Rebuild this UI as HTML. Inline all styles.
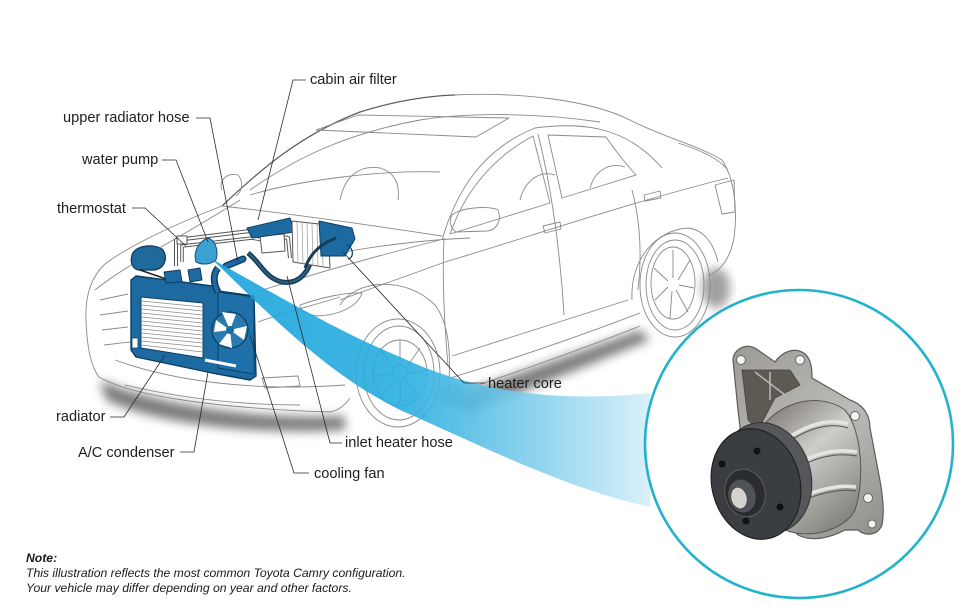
<!DOCTYPE html>
<html><head><meta charset="utf-8"><style>
html,body{margin:0;padding:0;background:#fff;}
svg{display:block;}
.lbl{font-family:"Liberation Sans",Arial,sans-serif;font-size:14.6px;fill:#1e1e1e;}
.note{font-family:"Liberation Sans",Arial,sans-serif;font-size:12.2px;fill:#1a1a1a;font-style:italic;}
</style></head><body>
<svg width="976" height="616" viewBox="0 0 976 616" xmlns="http://www.w3.org/2000/svg">
<defs>
<filter id="blur6" x="-20%" y="-50%" width="140%" height="200%"><feGaussianBlur stdDeviation="5"/></filter>
<filter id="blur3" x="-20%" y="-50%" width="140%" height="200%"><feGaussianBlur stdDeviation="3"/></filter>
<linearGradient id="beam" x1="210" y1="0" x2="650" y2="0" gradientUnits="userSpaceOnUse">
<stop offset="0" stop-color="#17a3da"/><stop offset="0.45" stop-color="#2aaee0"/><stop offset="0.75" stop-color="#86d0ec"/><stop offset="1" stop-color="#d6eff8"/>
</linearGradient>
<linearGradient id="body" x1="760" y1="400" x2="860" y2="520" gradientUnits="userSpaceOnUse">
<stop offset="0" stop-color="#6f6c69"/><stop offset="0.45" stop-color="#cfcdca"/><stop offset="1" stop-color="#7d7b78"/>
</linearGradient>
<linearGradient id="flange" x1="730" y1="350" x2="885" y2="540" gradientUnits="userSpaceOnUse">
<stop offset="0" stop-color="#9c9a97"/><stop offset="0.5" stop-color="#bdbbb8"/><stop offset="1" stop-color="#8e8c89"/>
</linearGradient>
</defs>

<!-- shadows -->
<path d="M100,380 C150,402 250,420 345,416 L345,430 C250,436 150,422 106,400 Z" fill="#6e6e6e" filter="url(#blur6)" opacity="0.9"/>
<path d="M448,398 L640,330 L650,340 L468,414 Z" fill="#707070" filter="url(#blur6)" opacity="0.9"/>
<ellipse cx="716" cy="288" rx="14" ry="20" fill="#888" filter="url(#blur6)" opacity="0.8"/>
<ellipse cx="452" cy="395" rx="14" ry="12" fill="#999" filter="url(#blur3)" opacity="0.6"/>

<!-- car body lines -->
<g fill="none" stroke="#8a8a8a" stroke-width="0.9" stroke-linejoin="round">
<path d="M222,206 C260,170 300,135 360,112 C395,101 425,96 455,95" stroke="#5e5e5e" stroke-width="1.3"/>
<path d="M455,95 C520,92 590,100 630,120 C660,136 700,146 722,160 C734,178 738,208 734,238 C730,258 722,270 708,276"/>
<path d="M222,206 C180,222 130,245 105,264 C90,278 85,298 86,320 C87,345 90,365 99,377 C130,395 210,408 330,412 C340,410 346,404 350,398"/>
<path d="M95,290 C130,262 180,238 240,200"/>
<path d="M222,206 C300,215 370,225 442,236"/>
<path d="M256,292 C320,272 380,255 440,240"/>
<path d="M340,300 C380,285 410,275 445,262 C520,240 620,205 728,178"/>
<path d="M300,305 C320,298 345,292 362,293 C358,306 340,315 318,316 C308,315 300,311 300,305 Z"/>
<path d="M115,360 C170,380 250,392 345,385"/>
<path d="M125,385 C180,398 240,405 300,405"/>
<path d="M262,378 L298,376 L300,386 L265,388 Z"/>
<path d="M258,322 C285,312 315,305 340,297"/>
<path d="M100,300 L128,294 M100,315 L128,311 M102,330 L128,327 M104,345 L130,342"/>
<path d="M340,305 C355,280 405,275 435,305 C448,322 452,350 448,395"/>
<ellipse cx="398" cy="373" rx="42" ry="54"/>
<ellipse cx="399" cy="373" rx="35" ry="47"/>
<ellipse cx="400" cy="373" rx="27" ry="33"/>
<ellipse cx="400" cy="373" rx="7" ry="8"/>
<path d="M400,365 L400,340 M406,368 L420,348 M407,374 L427,370 M405,380 L420,398 M400,381 L400,406 M394,380 L380,398 M393,374 L373,376 M394,368 L380,348"/>
<path d="M448,395 C500,378 580,350 640,326"/>
<path d="M450,378 C510,360 580,336 640,313"/>
<path d="M452,356 L628,300"/>
<path d="M444,238 C442,280 444,320 448,365"/>
<path d="M538,134 C552,190 560,250 564,315"/>
<path d="M632,190 C640,220 642,255 638,290"/>
<path d="M450,234 C462,200 485,162 533,136 L550,203 Z"/>
<path d="M548,135 L606,137 C615,150 625,163 636,175 L562,198 Z"/>
<path d="M442,240 C455,195 480,150 535,128 C580,122 625,125 662,168"/>
<path d="M452,215 C459,208 489,205 498,210 C502,220 497,230 487,231 L456,232 C450,228 449,220 452,215 Z"/>
<path d="M543,226 L560,222 L561,229 L545,233 Z"/>
<path d="M644,195 L660,191 L661,198 L645,201 Z"/>
<path d="M316,130 L358,115 L509,118 L476,137 Z"/>
<path d="M250,190 C300,155 350,133 420,120 C470,112 540,113 600,122"/>
<path d="M632,300 C630,260 655,230 688,228 C705,230 714,245 718,262"/>
<ellipse cx="675" cy="285" rx="35" ry="52"/>
<ellipse cx="675" cy="285" rx="29" ry="45"/>
<ellipse cx="673" cy="283" rx="22" ry="36"/>
<path d="M673,278 L673,250 M678,280 L690,260 M679,285 L694,288 M676,290 L688,312 M672,291 L670,318 M668,287 L655,300 M668,281 L654,268"/>
<path d="M678,143 C700,150 718,158 728,170"/>
<path d="M715,185 L734,180 L735,212 L722,214 Z"/>
<path d="M340,200 C345,175 360,165 380,168 C395,172 400,185 398,200"/>
<path d="M250,195 C300,180 380,170 440,172"/>
<path d="M222,190 C218,180 228,172 238,175 C244,182 242,192 236,196"/>
<path d="M520,200 C525,180 540,170 555,175"/>
<path d="M590,188 C595,170 610,162 625,167"/>
<path d="M300,260 C360,248 420,240 470,238"/>
</g>

<!-- engine bay parts -->
<g stroke-linejoin="round">
<path d="M176,266 L176,240 L250,231 L288,238 L290,258" fill="none" stroke="#555" stroke-width="4"/>
<path d="M176,266 L176,240 L250,231 L288,238 L290,258" fill="none" stroke="#fff" stroke-width="2"/>
<path d="M182,262 L182,246 L252,238 L284,244" fill="none" stroke="#555" stroke-width="3.5"/>
<path d="M182,262 L182,246 L252,238 L284,244" fill="none" stroke="#fff" stroke-width="1.6"/>
<rect x="177" y="236" width="10" height="8" fill="#fff" stroke="#555" stroke-width="1"/>
<path d="M132,255 C135,245 155,243 163,250 C168,258 165,268 155,270 L138,270 C132,268 130,262 132,255 Z" fill="#1e6a9a" stroke="#0c3a5c" stroke-width="1.2"/>
<path d="M140,270 L172,281" stroke="#222" stroke-width="1.5"/>
<path d="M131,280 L136,276 L212,286 L218,291 L254,296 L256,376 L250,380 L212,373 L136,357 L131,350 Z" fill="#1c6aa0" stroke="#0d3f66" stroke-width="1.4"/>
<path d="M218,292 L254,297 L254,374 L218,368 Z" fill="#1f70a8" stroke="#0d3f66" stroke-width="1"/>
<path d="M141,297 L203,303 L203,358 L141,348 Z" fill="#fff" stroke="#0d3f66" stroke-width="1"/>
<g stroke="#8a8a8a" stroke-width="0.7">
<path d="M141,301 L203,307 M141,305 L203,311 M141,309 L203,315 M141,313 L203,319 M141,317 L203,323 M141,321 L203,327 M141,325 L203,331 M141,329 L203,335 M141,333 L203,339 M141,337 L203,343 M141,341 L203,347 M141,345 L203,352"/>
</g>
<path d="M205,360 L236,366" stroke="#fff" stroke-width="3"/>
<path d="M132,338 L138,338 L138,348 L132,348 Z" fill="#fff" stroke="#0d3f66" stroke-width="0.8"/>
<circle cx="230" cy="330" r="18" fill="#2a7ab2" stroke="#0d3f66" stroke-width="1.2"/>
<path d="M230,330 L222,312 L236,314 Z M230,330 L247,326 L244,340 Z M230,330 L232,348 L219,344 Z M230,330 L214,332 L216,320 Z" fill="#fff"/>
<circle cx="230" cy="330" r="4" fill="#1c6aa0"/>
<path d="M164,272 L180,270 L182,282 L166,283 Z" fill="#1c6aa0" stroke="#0d3f66"/>
<path d="M188,270 L200,268 L202,280 L190,282 Z" fill="#1c6aa0" stroke="#0d3f66"/>
<path d="M218,268 C212,275 214,285 218,292" fill="none" stroke="#0d3f66" stroke-width="7"/>
<path d="M218,268 C212,275 214,285 218,292" fill="none" stroke="#1f6aa2" stroke-width="4"/>
<path d="M226,266 L243,259" stroke="#0d3f66" stroke-width="7" stroke-linecap="round"/>
<path d="M226,266 L243,259" stroke="#1f6aa2" stroke-width="4" stroke-linecap="round"/>
<path d="M196,262 C193,252 198,242 208,238 C215,240 219,250 216,260 C210,265 202,265 196,262 Z" fill="#3ba0d2" stroke="#14527f" stroke-width="1"/>
<path d="M248,253 C260,262 265,278 282,282 C300,285 310,270 312,255 L320,240" fill="none" stroke="#163c55" stroke-width="5"/>
<path d="M248,253 C260,262 265,278 282,282 C300,285 310,270 312,255 L320,240" fill="none" stroke="#2d5f7e" stroke-width="2"/>
<path d="M260,236 L284,234 L285,251 L262,253 Z" fill="#fff" stroke="#555" stroke-width="1"/>
<path d="M247,228 L290,218 L294,232 L252,238 Z" fill="#1c6aa0" stroke="#0d3f66" stroke-width="1"/>
<path d="M292,221 L328,225 L330,268 L293,262 Z" fill="#fff" stroke="#555" stroke-width="1"/>
<path d="M297,222 L298,263 M302,223 L303,264 M307,223 L308,265 M312,224 L313,265 M317,224 L318,266 M322,225 L323,267" stroke="#999" stroke-width="0.7"/>
<path d="M319,221 L352,228 L355,239 L345,256 L321,256 Z" fill="#1c6aa0" stroke="#0d3f66" stroke-width="1"/>
<path d="M347,245 C354,248 354,258 348,259" fill="none" stroke="#0d3f66" stroke-width="1.3"/>
<path d="M305,268 C310,255 318,245 336,238" fill="none" stroke="#163c55" stroke-width="3"/>
</g>

<!-- beam -->
<path d="M210,258 C260,285 330,328 400,357 C460,385 540,405 650,393 L650,507 C560,487 470,440 400,410 C330,375 280,325 218,265 Z" fill="url(#beam)" opacity="0.9"/>

<!-- leaders -->
<g fill="none" stroke="#2a2a2a" stroke-width="0.8">
<path d="M306,80 H293 L258,220"/>
<path d="M196,118 H210 L238,262"/>
<path d="M162,160 H176 L208,242"/>
<path d="M132,208 H145 L186,246"/>
<path d="M110,417 H124 L165,355"/>
<path d="M180,452 H194 L208,372"/>
<path d="M309,473 H294 L250,335"/>
<path d="M342,443 H330 L287,276"/>
<path d="M485,383 H464 L343,252"/>
</g>

<!-- labels -->
<text class="lbl" x="310" y="84">cabin air filter</text>
<text class="lbl" x="63" y="122">upper radiator hose</text>
<text class="lbl" x="82" y="164">water pump</text>
<text class="lbl" x="57" y="213">thermostat</text>
<text class="lbl" x="56" y="421">radiator</text>
<text class="lbl" x="78" y="457">A/C condenser</text>
<text class="lbl" x="314" y="478">cooling fan</text>
<text class="lbl" x="345" y="447">inlet heater hose</text>
<text class="lbl" x="488" y="388">heater core</text>

<!-- circle -->
<circle cx="799" cy="444" r="154" fill="#fff" stroke="#22b3cc" stroke-width="2.6"/>

<!-- pump -->
<g stroke-linejoin="round">
<path d="M733,360 C733,350 745,343 755,348 L775,362 C782,352 795,346 805,354 C812,360 812,372 812,378 L850,400 C862,404 870,414 870,428 L878,470 C882,490 885,510 882,525 C878,535 866,537 858,530 L845,530 C830,538 812,542 798,535 L785,520 L760,535 L745,470 L738,410 Z" fill="url(#flange)" stroke="#5e5c5a" stroke-width="1.2"/>
<path d="M742,370 L790,370 L800,385 L775,398 L758,430 L748,420 Z" fill="#5f5954" stroke="#444" stroke-width="0.8"/>
<path d="M755,372 L785,395 M770,372 L770,400" stroke="#bdb9b4" stroke-width="1.5"/>
<path d="M760,430 C780,400 820,392 845,410 C862,430 865,480 855,510 C845,530 810,540 785,530 L770,500 Z" fill="url(#body)" stroke="#555" stroke-width="1"/>
<g fill="none">
<path d="M785,440 C808,424 830,418 848,424" stroke="#e6e4e1" stroke-width="3.5"/>
<path d="M785,444 C808,428 830,422 848,428" stroke="#555" stroke-width="1"/>
<path d="M790,468 C815,453 835,448 857,452" stroke="#e6e4e1" stroke-width="3.5"/>
<path d="M790,472 C815,457 835,452 857,456" stroke="#555" stroke-width="1"/>
<path d="M795,500 C815,490 840,484 856,487" stroke="#e6e4e1" stroke-width="3.5"/>
<path d="M795,504 C815,494 840,488 856,491" stroke="#555" stroke-width="1"/>
</g>
<g fill="#f2f2f2" stroke="#666" stroke-width="1">
<circle cx="741" cy="360" r="4.5"/><circle cx="800" cy="360" r="4.5"/><circle cx="855" cy="416" r="4.5"/><circle cx="868" cy="498" r="4.5"/><circle cx="872" cy="524" r="4"/>
</g>
<ellipse cx="766" cy="478" rx="45" ry="56" transform="rotate(-15 766 478)" fill="#55575b" stroke="#333" stroke-width="1"/>
<ellipse cx="756" cy="484" rx="44" ry="56" transform="rotate(-15 756 484)" fill="#3a3d42" stroke="#1f2124" stroke-width="1.2"/>
<g fill="#111"><circle cx="722" cy="464" r="3.5"/><circle cx="757" cy="451" r="3.5"/><circle cx="780" cy="507" r="3.5"/><circle cx="746" cy="521" r="3.5"/></g>
<ellipse cx="745" cy="493" rx="20" ry="24" transform="rotate(-15 745 493)" fill="#2a2c30" stroke="#666" stroke-width="0.8"/>
<ellipse cx="742" cy="496" rx="14" ry="17" transform="rotate(-15 742 496)" fill="#4f5257" stroke="#2a2a2a" stroke-width="0.8"/>
<ellipse cx="739" cy="498" rx="8" ry="11" transform="rotate(-15 739 498)" fill="#d6d3ce" stroke="#444" stroke-width="0.8"/>
</g>

<!-- note -->
<text class="note" x="26" y="562" font-weight="bold">Note:</text>
<text class="note" x="26" y="577">This illustration reflects the most common Toyota Camry configuration.</text>
<text class="note" x="26" y="592">Your vehicle may differ depending on year and other factors.</text>
</svg>
</body></html>
